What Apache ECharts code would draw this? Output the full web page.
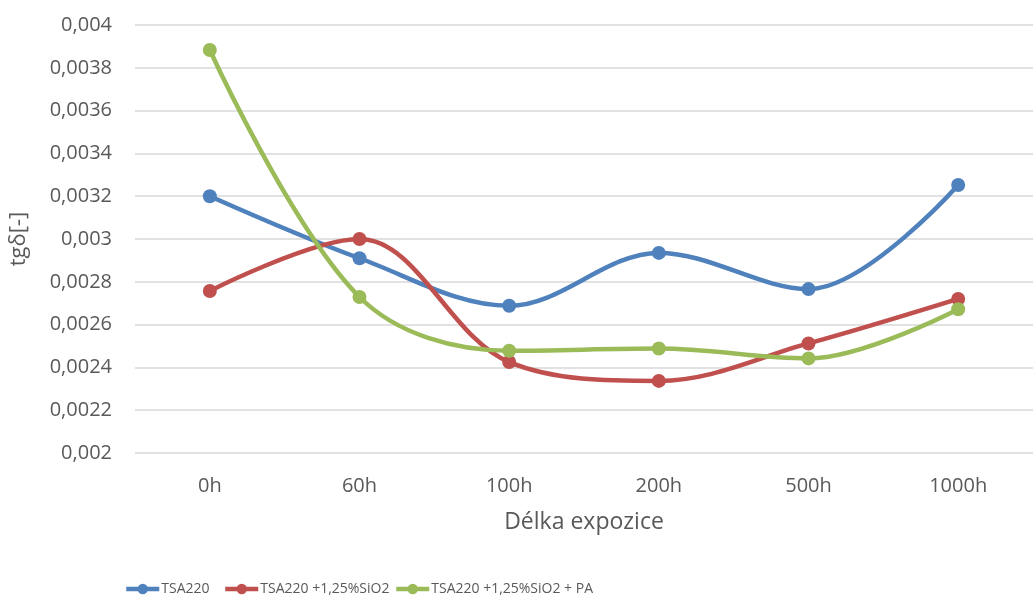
<!DOCTYPE html>
<html><head><meta charset="utf-8">
<script src="https://cdn.jsdelivr.net/npm/echarts@6/dist/echarts.min.js"></script>
<style>html,body{margin:0;padding:0;background:#fff}#c{width:1033px;height:606px}</style>
</head><body><div id="c"></div>
<script>
const categories = ['0h','60h','100h','200h','500h','1000h'];
const tsa220 = [0.0032, 0.00291, 0.002688, 0.002935, 0.002766, 0.003252];
const tsaSiO2 = [0.002757, 0.003, 0.002425, 0.002337, 0.002512, 0.00272];
const tsaSiO2PA = [0.003883, 0.002729, 0.002478, 0.002488, 0.002442, 0.002672];
const seriesNames = ['TSA220', 'TSA220 +1,25%SiO2', 'TSA220 +1,25%SiO2 + PA'];
const colors = ['#4f81bd', '#c0504d', '#9bbb59'];
const font = 'Open Sans, Liberation Sans, sans-serif';
const chart = echarts.init(document.getElementById('c'));
function mk(name, data, color) {
  return {name, type:'line', data, smooth:0.35, symbol:'circle', symbolSize:14,
    lineStyle:{width:4.5, color}, itemStyle:{color}};
}
const legendLefts = [119, 218, 389];
chart.setOption({
  animation:false,
  color: colors,
  grid:{left:133, right:-13, top:25, bottom:153},
  xAxis:{type:'category', data:categories, boundaryGap:true,
    axisLine:{show:false}, axisTick:{show:false},
    axisLabel:{color:'#595959', fontSize:20, fontFamily:font, margin:23},
    name:'Délka expozice', nameLocation:'middle', nameGap:58,
    nameTextStyle:{color:'#595959', fontSize:23, fontFamily:font}},
  yAxis:{type:'value', min:0.002, max:0.004, interval:0.0002,
    axisLabel:{color:'#595959', fontSize:20, fontFamily:font, margin:23,
      formatter: v => String(+v.toFixed(4)).replace('.', ',')},
    splitLine:{lineStyle:{color:'#d9d9d9', width:1.5}},
    name:'tgδ[-]', nameLocation:'middle', nameGap:105, nameRotate:90,
    nameTextStyle:{color:'#595959', fontSize:22, fontFamily:font}},
  legend: seriesNames.map((n, i) => ({
    bottom:5, left:legendLefts[i], itemWidth:33, itemHeight:13, itemGap:0,
    lineStyle:{width:4.5},
    textStyle:{color:'#595959', fontSize:14, fontFamily:font, padding:[0,0,0,-3]},
    data:[n]})),
  series:[mk(seriesNames[0], tsa220, colors[0]), mk(seriesNames[1], tsaSiO2, colors[1]), mk(seriesNames[2], tsaSiO2PA, colors[2])]
});
</script></body></html>
